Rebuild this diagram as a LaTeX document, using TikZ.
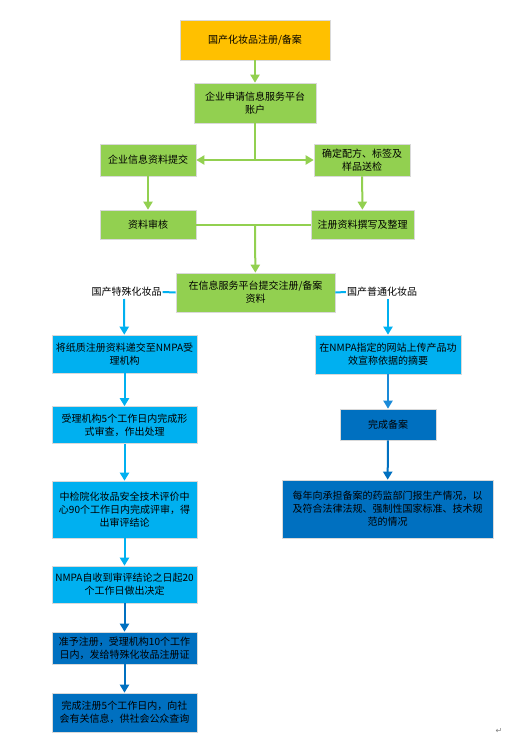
\documentclass[tikz,border=0pt]{standalone}
\usepackage{fontspec}
\setmainfont{Noto Sans CJK SC}
\newfontfamily\symfont{DejaVu Sans}
\usetikzlibrary{arrows.meta}
\definecolor{boxorange}{HTML}{FFC000}
\definecolor{boxgreen}{HTML}{92D050}
\definecolor{boxcyan}{HTML}{00B0F0}
\definecolor{boxblue}{HTML}{0070C0}
\definecolor{midblue}{HTML}{1A8AD8}
\tikzset{
	stepbox/.style={draw=white!85!black, line width=.6pt, align=center, inner sep=1pt,
		font=\fontsize{10}{13}\selectfont, text=black},
	flow/.style={line width=2pt, -{Triangle[width=9pt,length=8pt]}},
	link/.style={line width=2pt}
}
\begin{document}
\begin{tikzpicture}[x=1pt, y=-1pt]
				\useasboundingbox (0,0) rectangle (530,744);
				% upper part
				\node[stepbox, fill=boxorange, minimum width=150pt, minimum height=40pt] (top) at (255,40) {国产化妆品注册/备案};
				\node[stepbox, fill=boxgreen, minimum width=122pt, minimum height=40pt] (acct) at (255,103) {企业申请信息服务平台\\账户};
				\node[stepbox, fill=boxgreen, minimum width=96pt, minimum height=32pt] (info) at (148,160) {企业信息资料提交};
				\node[stepbox, fill=boxgreen, minimum width=96pt, minimum height=32pt] (formula) at (362,160) {确定配方、标签及\\样品送检};
				\node[stepbox, fill=boxgreen, minimum width=96pt, minimum height=29pt] (review) at (148,224.5) {资料审核};
				\node[stepbox, fill=boxgreen, minimum width=103pt, minimum height=29pt] (write) at (362.5,224.5) {注册资料撰写及整理};
				\node[stepbox, fill=boxgreen, minimum width=159pt, minimum height=39pt] (submit) at (255.5,292.5) {在信息服务平台提交注册/备案\\资料};
				\node[shape=coordinate] (split) at (255,160) {};
				\node[shape=coordinate] (merge) at (255,224.5) {};
				\begin{scope}[boxgreen]
					\draw[flow] (top) -- (acct);
					\draw[link] (acct.south) -- (split);
					\draw[flow] (split) -- (info);
					\draw[flow] (split) -- (formula);
					\draw[flow] (info) -- (review);
					\draw[flow] (formula) -- (write);
					\draw[link] (review) -- (write);
					\draw[flow] (merge) -- (submit);
				\end{scope}
				% two branches
				\node[font=\fontsize{10}{13}\selectfont, inner sep=1pt] (special) at (126.5,292) {国产特殊化妆品};
				\node[font=\fontsize{10}{13}\selectfont, inner sep=1pt] (normal) at (382,292) {国产普通化妆品};
				% special cosmetics
				\node[stepbox, fill=boxcyan, minimum width=145pt, minimum height=38pt] (s1) at (124.5,354) {将纸质注册资料递交至NMPA受\\理机构};
				\node[stepbox, fill=boxcyan, minimum width=145pt, minimum height=37pt] (s2) at (124.5,425) {受理机构5个工作日内完成形\\式审查，作出处理};
				\node[stepbox, fill=boxcyan, minimum width=145pt, minimum height=57pt] (s3) at (124.5,509.5) {中检院化妆品安全技术评价中\\心90个工作日内完成评审，得\\出审评结论};
				\node[stepbox, fill=boxcyan, minimum width=145pt, minimum height=37pt] (s4) at (124.5,584.5) {NMPA自收到审评结论之日起20\\个工作日做出决定};
				\node[stepbox, fill=boxblue, minimum width=145pt, minimum height=32pt] (s5) at (124.5,648) {准予注册，受理机构10个工作\\日内，发给特殊化妆品注册证};
				\node[stepbox, fill=boxblue, minimum width=145pt, minimum height=39pt] (s6) at (124.5,712.5) {完成注册5个工作日内，向社\\会有关信息，供社会公众查询};
				% normal cosmetics
				\node[stepbox, fill=boxcyan, minimum width=146pt, minimum height=39pt] (n1) at (388,354.5) {在NMPA指定的网站上传产品功\\效宣称依据的摘要};
				\node[stepbox, fill=boxblue, minimum width=96pt, minimum height=31pt] (n2) at (388,424.5) {完成备案};
				\node[stepbox, fill=boxblue, minimum width=211pt, minimum height=58pt] (n3) at (387.5,509) {每年向承担备案的药监部门报生产情况，以\\及符合法律法规、强制性国家标准、技术规\\范的情况};
				\node[shape=coordinate] (sdrop) at (124,299) {};
				\node[shape=coordinate] (ndrop) at (388,299) {};
				\begin{scope}[boxcyan]
					\draw[link] (submit.west) -- (special.east);
					\draw[link] (submit.east) -- (normal.west);
					\draw[flow] (sdrop) -- (s1);
					\draw[flow] (ndrop) -- (n1);
					\draw[flow] (s1) -- (s2);
					\draw[flow] (s2) -- (s3);
					\draw[flow] (s3) -- (s4);
				\end{scope}
				\draw[flow, midblue] (n1) -- (n2);
				\begin{scope}[boxblue]
					\draw[flow] (s4) -- (s5);
					\draw[flow] (s5) -- (s6);
					\draw[flow] (n2) -- (n3);
				\end{scope}
				\node[font=\symfont\fontsize{8}{8}\selectfont, text=gray, inner sep=0pt] (mark) at (499,731) {↵};
			\end{tikzpicture}
\end{document}
